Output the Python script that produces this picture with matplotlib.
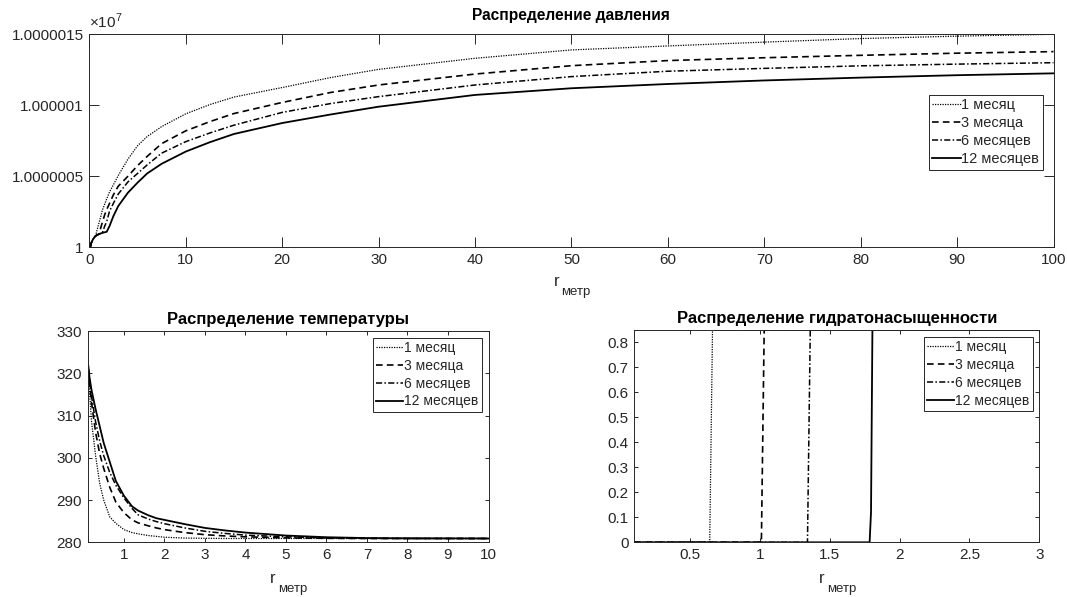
import matplotlib
matplotlib.use("Agg")
import matplotlib.pyplot as plt

plt.rcParams['font.family'] = ['Liberation Sans', 'DejaVu Sans']
plt.rcParams['mathtext.fontset'] = 'custom'
plt.rcParams['mathtext.rm'] = 'Liberation Sans'

# ---------------- data ----------------
labels = ['1 месяц', '3 месяца', '6 месяцев', '12 месяцев']

# pressure distribution, r in metres, p in Pa
r_p = [0.1, 0.2, 0.35, 0.5, 0.65, 0.8, 1.0, 1.2, 1.35, 1.6, 1.8, 2.1, 2.5, 3,
       4, 5, 6, 7.5, 10, 12.5, 15, 20, 25, 30, 40, 50, 60, 70, 80, 90, 100]
p_1m = [10000000.0, 10000000.3, 10000000.52, 10000000.68, 10000000.8, 10000001.2,
        10000001.7, 10000002.2, 10000002.6, 10000003.05, 10000003.4, 10000003.9,
        10000004.4, 10000005.05, 10000006.2, 10000007.15, 10000007.8, 10000008.5,
        10000009.4, 10000010.05, 10000010.58, 10000011.25, 10000011.95, 10000012.53,
        10000013.31, 10000013.9, 10000014.18, 10000014.45, 10000014.7, 10000014.87,
        10000015.0]
p_3m = [10000000.0, 10000000.3, 10000000.52, 10000000.68, 10000000.8, 10000000.86,
        10000000.93, 10000001.4, 10000001.75, 10000002.3, 10000002.65, 10000003.1,
        10000003.7, 10000004.3, 10000005.0, 10000005.75, 10000006.4, 10000007.3,
        10000008.2, 10000008.85, 10000009.42, 10000010.2, 10000010.9, 10000011.43,
        10000012.2, 10000012.79, 10000013.15, 10000013.35, 10000013.52, 10000013.67,
        10000013.78]
p_6m = [10000000.0, 10000000.3, 10000000.52, 10000000.68, 10000000.8, 10000000.86,
        10000000.93, 10000000.98, 10000001.01, 10000001.5, 10000001.8, 10000002.55,
        10000003.1, 10000003.75, 10000004.6, 10000005.2, 10000005.8, 10000006.63,
        10000007.44, 10000008.05, 10000008.6, 10000009.5, 10000010.12, 10000010.61,
        10000011.43, 10000012.02, 10000012.4, 10000012.6, 10000012.78, 10000012.9,
        10000013.0]
p_12m = [10000000.0, 10000000.3, 10000000.52, 10000000.68, 10000000.8, 10000000.86,
         10000000.93, 10000000.98, 10000001.01, 10000001.06, 10000001.09, 10000001.5,
         10000002.2, 10000002.9, 10000003.84, 10000004.55, 10000005.2, 10000005.88,
         10000006.74, 10000007.4, 10000007.98, 10000008.75, 10000009.35, 10000009.9,
         10000010.73, 10000011.2, 10000011.5, 10000011.75, 10000011.95, 10000012.12,
         10000012.25]
p_yticks = [1e7, 1.0000005e7, 1.000001e7, 1.0000015e7]
p_yticklabels = ['1', '1.0000005', '1.000001', '1.0000015']
p_xticks = [0, 10, 20, 30, 40, 50, 60, 70, 80, 90, 100]

# temperature distribution, K
r_t = [0.1, 0.15, 0.2, 0.3, 0.4, 0.5, 0.65, 0.8, 1.0, 1.2, 1.35, 1.6, 1.8, 2.0,
       2.5, 3, 3.5, 4, 5, 6, 7, 8, 10]
t_1m = [323.5, 315.5, 308.5, 300.5, 294.0, 290.0, 286.0, 284.5, 283.0, 282.3,
        282.0, 281.6, 281.4, 281.2, 281.0, 280.95, 280.9, 280.9, 280.9, 280.9,
        280.9, 280.9, 280.9]
t_3m = [323.5, 318.0, 313.0, 306.0, 301.0, 297.5, 293.0, 289.5, 287.0, 285.3,
        284.6, 283.9, 283.4, 283.0, 282.3, 281.8, 281.5, 281.3, 281.05, 280.95,
        280.9, 280.9, 280.9]
t_6m = [323.5, 318.5, 314.5, 308.5, 304.0, 300.5, 296.5, 293.5, 290.5, 288.0,
        286.5, 285.5, 284.9, 284.4, 283.4, 282.6, 282.1, 281.7, 281.3, 281.05,
        280.95, 280.9, 280.9]
t_12m = [323.5, 319.0, 316.0, 311.5, 307.5, 303.5, 299.0, 294.5, 291.0, 288.5,
         287.5, 286.4, 285.7, 285.3, 284.3, 283.4, 282.8, 282.3, 281.6, 281.2,
         281.0, 280.95, 280.9]
t_xticks = [1, 2, 3, 4, 5, 6, 7, 8, 9, 10]
t_yticks = [280, 290, 300, 310, 320, 330]

# hydrate saturation
r_s1 = [0.1, 0.64, 0.66, 3.0]
s_1m = [0.0, 0.0, 0.85, 0.85]
r_s3 = [0.1, 1.01, 1.03, 3.0]
s_3m = [0.0, 0.0, 0.85, 0.85]
r_s6 = [0.1, 1.34, 1.36, 3.0]
s_6m = [0.0, 0.0, 0.85, 0.85]
r_s12 = [0.1, 1.785, 1.795, 1.805, 3.0]
s_12m = [0.0, 0.0, 0.12, 0.85, 0.85]
s_xticks = [0.5, 1, 1.5, 2, 2.5, 3]
s_xticklabels = ['0.5', '1', '1.5', '2', '2.5', '3']
s_yticks = [0, 0.1, 0.2, 0.3, 0.4, 0.5, 0.6, 0.7, 0.8]
s_yticklabels = ['0', '0.1', '0.2', '0.3', '0.4', '0.5', '0.6', '0.7', '0.8']

# ---------------- style ----------------
styles = [dict(ls=(0, (1, 1)), lw=0.9),
          dict(ls=(0, (4, 2.5)), lw=1.2),
          dict(ls=(0, (4, 1.5, 1, 1.5)), lw=1.1),
          dict(ls='-', lw=1.3)]
dark = '#262626'
W, H = 1067, 597

fig = plt.figure(figsize=(W / 100, H / 100), dpi=100)


def frame(ax, ticklen):
    for s in ax.spines.values():
        s.set_color(dark)
        s.set_linewidth(0.7)
    ax.tick_params(direction='in', top=True, right=True, length=ticklen,
                   width=0.7, color=dark, labelcolor=dark, labelsize=11, pad=4)


def xlabel(ax, dy):
    ax.annotate('r', xy=(0.5, 0), xycoords='axes fraction', xytext=(-15, dy),
                textcoords='offset pixels', ha='center', va='center',
                fontsize=12, color=dark)
    ax.annotate('метр', xy=(0.5, 0), xycoords='axes fraction', xytext=(-10, dy - 11),
                textcoords='offset pixels', ha='left', va='center',
                fontsize=9.5, color=dark)


def legend(ax, anchor, fs):
    leg = ax.legend(loc='upper right', bbox_to_anchor=anchor, fontsize=fs,
                    handlelength=1.95, handletextpad=0.05, labelspacing=0.27,
                    borderpad=0.25, borderaxespad=0.0, fancybox=False,
                    framealpha=1, edgecolor=dark)
    leg.get_frame().set_linewidth(0.7)
    for t in leg.get_texts():
        t.set_color(dark)


# top: pressure
ax1 = fig.add_axes([89.3 / W, 1 - 247.3 / H, 964.2 / W, 213 / H])
for y, lab, st in zip([p_1m, p_3m, p_6m, p_12m], labels, styles):
    ax1.plot(r_p, y, color='black', label=lab, **st)
ax1.set_xlim(0, 100)
ax1.set_ylim(p_yticks[0], p_yticks[-1])
ax1.set_xticks(p_xticks)
ax1.set_yticks(p_yticks)
ax1.set_yticklabels(p_yticklabels)
frame(ax1, 7)
ax1.text(0.0, 1.015, r'$\times\mathregular{10}^{\mathregular{7}}$', transform=ax1.transAxes,
         fontsize=11, color=dark, ha='left', va='bottom')
ax1.set_title('Распределение давления', fontsize=11.2, fontweight='bold', color='black', pad=10)
xlabel(ax1, -34)
legend(ax1, (0.989, 0.716), 10.5)

# bottom left: temperature
ax2 = fig.add_axes([87.5 / W, 1 - 542.3 / H, 401 / W, 211.3 / H])
for y, lab, st in zip([t_1m, t_3m, t_6m, t_12m], labels, styles):
    ax2.plot(r_t, y, color='black', label=lab, **st)
ax2.set_xlim(0.1, 10)
ax2.set_ylim(t_yticks[0], t_yticks[-1])
ax2.set_xticks(t_xticks)
ax2.set_yticks(t_yticks)
frame(ax2, 3)
ax2.set_title('Распределение температуры', fontsize=12, fontweight='bold', color='black', pad=5)
xlabel(ax2, -36)
legend(ax2, (0.983, 0.968), 10)

# bottom right: saturation
ax3 = fig.add_axes([634.3 / W, 1 - 542.3 / H, 405 / W, 212.3 / H])
for xs, y, lab, st in zip([r_s1, r_s3, r_s6, r_s12], [s_1m, s_3m, s_6m, s_12m], labels, styles):
    ax3.plot(xs, y, color='black', label=lab, **st)
ax3.set_xlim(0.1, 3)
ax3.set_ylim(0, 0.85)
ax3.set_xticks(s_xticks)
ax3.set_xticklabels(s_xticklabels)
ax3.set_yticks(s_yticks)
ax3.set_yticklabels(s_yticklabels)
frame(ax3, 3)
ax3.set_title('Распределение гидратонасыщенности', fontsize=12, fontweight='bold', color='black', pad=5)
xlabel(ax3, -36)
legend(ax3, (0.984, 0.968), 10)

fig.savefig('out.png', dpi=100)
